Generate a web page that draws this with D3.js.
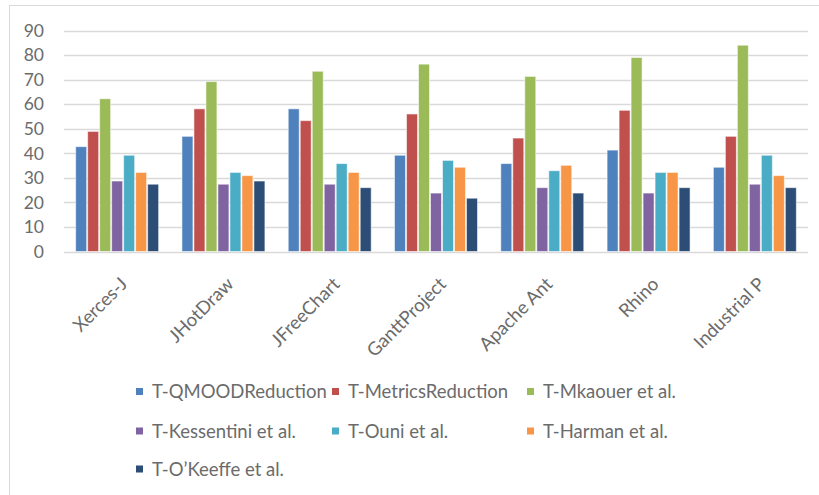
<!DOCTYPE html>
<html>
<head>
<meta charset="utf-8">
<script src="https://cdn.jsdelivr.net/npm/d3@7"></script>
<style>
  html, body { margin: 0; padding: 0; background: #fff; }
  svg { display: block; }
  text { font-family: Lato, "Open Sans", sans-serif; fill: #6b6b6b; }
</style>
</head>
<body>
<svg id="chart" width="819" height="495"></svg>
<script>
// Projects on the x axis
const categories = ["Xerces-J", "JHotDraw", "JFreeChart", "GanttProject", "Apache Ant", "Rhino", "Industrial P"];

// Approaches compared (one series each)
const seriesNames = [
  "T-QMOODReduction", "T-MetricsReduction", "T-Mkaouer et al.",
  "T-Kessentini et al.", "T-Ouni et al.", "T-Harman et al.", "T-O\u2019Keeffe et al."
];

// Values per approach, in project order
const qmoodReduction   = [42.7, 46.9, 58.1, 39.2, 35.8, 41.3, 34.3];
const metricsReduction = [48.9, 58.1, 53.3, 56.0, 46.2, 57.5, 46.9];
const mkaouer          = [62.2, 69.2, 73.4, 76.3, 71.3, 79.0, 84.0];
const kessentini       = [28.7, 27.4, 27.4, 23.8, 26.0, 23.8, 27.4];
const ouni             = [39.2, 32.2, 35.8, 37.1, 32.9, 32.2, 39.2];
const harman           = [32.2, 30.9, 32.2, 34.3, 35.1, 32.2, 30.9];
const okeeffe          = [27.4, 28.7, 26.0, 21.7, 23.8, 26.0, 26.0];

const yTicks = [0, 10, 20, 30, 40, 50, 60, 70, 80, 90];

const seriesValues = [qmoodReduction, metricsReduction, mkaouer, kessentini, ouni, harman, okeeffe];
const colors = ["#4F81BD", "#C0504D", "#9BBB59", "#8064A2", "#4BACC6", "#F79646", "#2C4D75"];

const svg = d3.select("#chart");

// Chart area frame
svg.append("rect")
  .attr("x", 9.5).attr("y", 5.5)
  .attr("width", 1000).attr("height", 1000)
  .attr("fill", "none").attr("stroke", "#d9d9d9").attr("stroke-width", 1);

const plot = { left: 64, right: 808, top: 30.5, bottom: 251.5 };

const y = d3.scaleLinear().domain([0, 90]).range([plot.bottom, plot.top]);
const x0 = d3.scaleBand().domain(categories).range([plot.left, plot.right])
  .paddingInner(0.21).paddingOuter(0.105);
const x1 = d3.scaleBand().domain(seriesNames).range([0, x0.bandwidth()]);

// Horizontal gridlines
svg.append("g")
  .selectAll("line")
  .data(yTicks)
  .join("line")
  .attr("x1", plot.left).attr("x2", plot.right)
  .attr("y1", d => Math.round(y(d)) + 0.5).attr("y2", d => Math.round(y(d)) + 0.5)
  .attr("stroke", "#d9d9d9").attr("stroke-width", 1.3);

// Y tick labels
svg.append("g")
  .selectAll("text")
  .data(yTicks)
  .join("text")
  .attr("x", 44).attr("y", d => y(d))
  .attr("dy", "0.36em")
  .attr("text-anchor", "end")
  .attr("font-size", 17.5)
  .text(d => d);

// Grouped bars
const groups = svg.append("g")
  .selectAll("g")
  .data(categories)
  .join("g")
  .attr("transform", c => `translate(${x0(c)},0)`);

groups.selectAll("rect")
  .data((c, ci) => seriesNames.map((s, si) => ({ s, si, v: seriesValues[si][ci] })))
  .join("rect")
  .attr("x", d => x1(d.s) + 0.5)
  .attr("width", x1.bandwidth() - 1)
  .attr("y", d => y(d.v))
  .attr("height", d => y(0) - y(d.v))
  .attr("fill", d => colors[d.si])
  .attr("stroke", "#fff").attr("stroke-opacity", 0.55).attr("stroke-width", 1);

// Rotated category labels
svg.append("g")
  .selectAll("text")
  .data(categories)
  .join("text")
  .attr("transform", c => `translate(${x0(c) + x0.bandwidth() / 2 + 2},276) rotate(-45)`)
  .attr("dy", "0.71em")
  .attr("text-anchor", "end")
  .attr("font-size", 18.5)
  .text(c => c);

// Legend: three columns, wrapping rows
const legendCols = [136, 332, 527];
const legendRows = [391.5, 431, 469];
const legend = svg.append("g")
  .selectAll("g")
  .data(seriesNames)
  .join("g")
  .attr("transform", (s, i) => `translate(${legendCols[i % 3]},${legendRows[Math.floor(i / 3)]})`);

legend.append("rect")
  .attr("x", 0).attr("y", -3.5)
  .attr("width", 7).attr("height", 7)
  .attr("fill", (s, i) => colors[i]);

legend.append("text")
  .attr("x", 16).attr("y", 0)
  .attr("dy", "0.36em")
  .attr("font-size", 18.5)
  .text(s => s);
</script>
</body>
</html>
